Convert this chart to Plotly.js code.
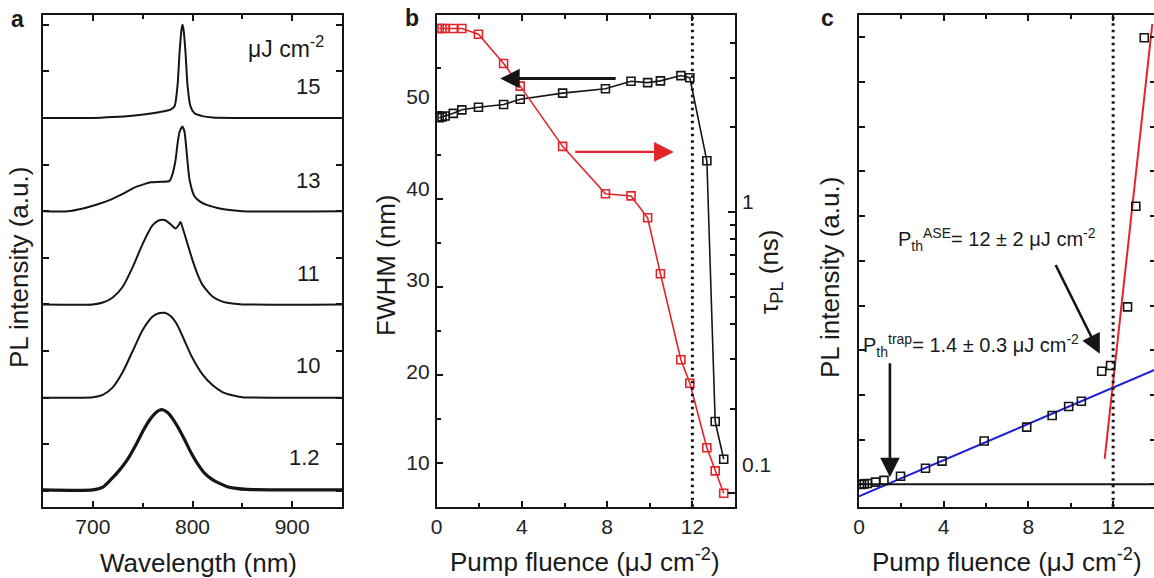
<!DOCTYPE html>
<html>
<head>
<meta charset="utf-8">
<script src="https://cdn.plot.ly/plotly-3.0.1.min.js"></script>
<style>
  html, body { margin: 0; padding: 0; overflow: hidden; background: #fff; }
  #chart { width: 1157px; height: 578px; }
</style>
</head>
<body>
<div id="chart"></div>
<script>
// ---------- Panel a: PL spectra (offset stacked) ----------
const wl15  = [650, 700, 720, 740, 760, 770, 778, 782, 785, 787, 789, 790, 791, 793, 795, 798, 802, 810, 820, 850, 950];
const int15 = [0, 0, 0.02, 0.05, 0.1, 0.14, 0.18, 0.25, 0.7, 1.4, 1.9, 2.0, 1.9, 1.4, 0.7, 0.25, 0.1, 0.04, 0.01, 0, 0];

const wl13  = [650, 675, 690, 705, 718, 730, 741, 750, 758, 768, 777, 780, 783, 785, 787, 790, 792, 794, 797, 802, 808, 815, 825, 835, 850, 950];
const int13 = [0, 0, 0.06, 0.15, 0.25, 0.37, 0.5, 0.57, 0.62, 0.63, 0.65, 0.8, 1.1, 1.45, 1.7, 1.82, 1.7, 1.3, 0.68, 0.32, 0.2, 0.13, 0.07, 0.03, 0, 0];

const wl11  = [650, 700, 710, 720, 730, 740, 750, 760, 766, 772, 778, 783, 786, 788, 790, 795, 800, 805, 810, 820, 830, 840, 850, 950];
const int11 = [0, 0, 0.04, 0.15, 0.38, 0.8, 1.3, 1.7, 1.8, 1.81, 1.72, 1.63, 1.7, 1.77, 1.65, 1.3, 0.95, 0.65, 0.42, 0.17, 0.06, 0.02, 0, 0];

const wl10  = [650, 700, 710, 720, 730, 740, 750, 760, 766, 772, 778, 785, 792, 800, 810, 820, 830, 840, 850, 950];
const int10 = [0, 0.01, 0.06, 0.22, 0.55, 1.0, 1.45, 1.74, 1.81, 1.82, 1.75, 1.55, 1.22, 0.85, 0.5, 0.27, 0.12, 0.05, 0.01, 0];

const wl1p2  = [650, 700, 710, 718, 727, 735, 743, 751, 757, 762, 766, 770, 775, 780, 785, 792, 799, 806, 812, 820, 826, 835, 842, 855, 950];
const int1p2 = [0.02, 0.02, 0.08, 0.24, 0.45, 0.68, 0.98, 1.31, 1.52, 1.65, 1.72, 1.74, 1.68, 1.55, 1.38, 1.1, 0.8, 0.55, 0.38, 0.24, 0.17, 0.09, 0.06, 0.03, 0.02];

const spectraLabels = ['15', '13', '11', '10', '1.2'];

// ---------- Panels b and c: fluence dependence ----------
const fluence = [0.12, 0.25, 0.4, 0.78, 1.18, 1.96, 3.14, 3.92, 5.91, 7.92, 9.12, 9.9, 10.5, 11.46, 11.88, 12.68, 13.07, 13.47];
const fwhm    = [49.3, 49.4, 49.5, 49.8, 50.2, 50.5, 50.8, 51.4, 52.1, 52.6, 53.45, 53.3, 53.5, 54.1, 53.85, 44.4, 14.7, 10.4];
const tauPL   = [4.49, 4.49, 4.49, 4.49, 4.49, 4.28, 3.37, 2.80, 1.71, 1.16, 1.14, 0.953, 0.603, 0.298, 0.246, 0.145, 0.12, 0.1];
const plInt   = [0.0, 0.01, 0.02, 0.05, 0.09, 0.18, 0.36, 0.52, 0.97, 1.28, 1.54, 1.74, 1.86, 2.53, 2.66, 3.97, 6.22, 9.99];

// tick labels of panel b
const fwhmTicks = [10, 20, 30, 40, 50];
const tauTicks = [0.1, 1];
const tauTickText = ['0.1', '1'];

// linear fits drawn in panel c
const fitTrapX = [0, 14];
const fitTrapY = [-0.27, 2.57];
const fitAseX  = [11.6, 13.85];
const fitAseY  = [0.57, 10.3];

const threshold = 12;

// ---------- geometry helpers ----------
const W = 1157, H = 578;
const dx = (a, b) => [a / W, b / W];
const dy = (top, bot) => [1 - bot / H, 1 - top / H];
const px = x => x / W;
const py = y => 1 - y / H;

const FONT = 'Liberation Sans, Arial, Helvetica, sans-serif';
const INK = '#151515';
const RED = '#e3242b';
const BLUE = '#1f1fd6';

const baseAxis = {
  showline: true, linecolor: INK, linewidth: 2,
  ticks: 'inside', ticklen: 6, tickwidth: 2, tickcolor: INK,
  showgrid: false, zeroline: false,
  tickfont: { family: FONT, size: 21, color: '#222' },
  fixedrange: true
};

const traces = [];
const spectra = [[wl15, int15], [wl13, int13], [wl11, int11], [wl10, int10], [wl1p2, int1p2]];
const offsets = [8, 6, 4, 2, 0];
spectra.forEach((s, i) => {
  traces.push({
    type: 'scatter', mode: 'lines', xaxis: 'x', yaxis: 'y',
    x: s[0], y: s[1].map(v => v + offsets[i]),
    line: { color: INK, width: i === 4 ? 3.2 : 2, shape: 'spline', smoothing: 0.6 },
    hoverinfo: 'skip'
  });
});

// panel b
traces.push({
  type: 'scatter', mode: 'lines+markers', xaxis: 'x2', yaxis: 'y2',
  x: fluence, y: fwhm,
  line: { color: INK, width: 1.6 },
  marker: { symbol: 'square-open', size: 8, color: INK, line: { width: 1.6, color: INK } }
});
traces.push({
  type: 'scatter', mode: 'lines+markers', xaxis: 'x2', yaxis: 'y3',
  x: fluence, y: tauPL,
  line: { color: RED, width: 1.6 },
  marker: { symbol: 'square-open', size: 8, color: RED, line: { width: 1.6, color: RED } }
});
// empty traces so that the label-only axes of panel b are created
traces.push({ type: 'scatter', mode: 'markers', xaxis: 'x2', yaxis: 'y5', x: [], y: [], hoverinfo: 'skip' });
traces.push({ type: 'scatter', mode: 'markers', xaxis: 'x2', yaxis: 'y6', x: [], y: [], hoverinfo: 'skip' });

// panel c
traces.push({
  type: 'scatter', mode: 'lines', xaxis: 'x3', yaxis: 'y4',
  x: fitTrapX, y: fitTrapY, line: { color: BLUE, width: 2 }
});
traces.push({
  type: 'scatter', mode: 'lines', xaxis: 'x3', yaxis: 'y4',
  x: fitAseX, y: fitAseY, line: { color: RED, width: 2 }
});
traces.push({
  type: 'scatter', mode: 'markers', xaxis: 'x3', yaxis: 'y4',
  x: fluence, y: plInt,
  marker: { symbol: 'square-open', size: 8, color: INK, line: { width: 1.6, color: INK } }
});

const layout = {
  width: W, height: H,
  margin: { l: 0, r: 0, t: 0, b: 0 },
  paper_bgcolor: '#fff', plot_bgcolor: 'rgba(0,0,0,0)',
  showlegend: false,
  font: { family: FONT, color: INK },

  xaxis: Object.assign({}, baseAxis, {
    domain: dx(43, 342), anchor: 'y', range: [650, 950],
    tickvals: [700, 800, 900], mirror: 'ticks',
    minor: { tickvals: [650, 750, 850, 950], ticks: 'inside', ticklen: 4, tickwidth: 2, tickcolor: INK }
  }),
  yaxis: Object.assign({}, baseAxis, {
    domain: dy(15, 506.7), anchor: 'x', range: [-0.34, 10.21],
    tickvals: [0, 1, 2, 3, 4, 5, 6, 7, 8, 9, 10], showticklabels: false, mirror: 'ticks'
  }),

  xaxis2: Object.assign({}, baseAxis, {
    domain: dx(436.7, 735), anchor: 'y2', range: [0, 14],
    tickvals: [0, 4, 8, 12], mirror: 'ticks',
    minor: { tickvals: [2, 6, 10], ticks: 'inside', ticklen: 4, tickwidth: 2, tickcolor: INK }
  }),
  yaxis2: Object.assign({}, baseAxis, {
    domain: dy(15, 506.7), anchor: 'x2', range: [5, 61],
    tickvals: fwhmTicks, showticklabels: false, mirror: false,
    minor: { tickvals: [15, 25, 35, 45, 55], ticks: 'inside', ticklen: 4, tickwidth: 2, tickcolor: INK }
  }),
  yaxis3: Object.assign({}, baseAxis, {
    domain: dy(15, 506.7), anchor: 'x2', overlaying: 'y2', side: 'right',
    type: 'log', range: [-1.048, 0.70],
    tickvals: tauTicks, showticklabels: false, ticklen: 7,
    minor: { tickvals: [0.2, 0.3, 0.4, 0.5, 0.6, 0.7, 0.8, 0.9, 2, 3, 4, 5], ticks: 'inside', ticklen: 5, tickwidth: 2, tickcolor: INK }
  }),
  // label-only axes: the printed tick labels of panel b sit slightly off their tick marks
  yaxis5: {
    domain: dy(15, 506.7), anchor: 'x2', overlaying: 'y2', side: 'left',
    range: [5.22, 58.96], tickvals: fwhmTicks, ticks: '', showline: false,
    showgrid: false, zeroline: false, fixedrange: true, ticklabelstandoff: 6,
    tickfont: { family: FONT, size: 21, color: '#222' }
  },
  yaxis6: {
    domain: dy(15, 506.7), anchor: 'x2', overlaying: 'y2', side: 'right',
    type: 'log', range: [-1.158, 0.709], tickvals: tauTicks, ticktext: tauTickText,
    ticks: '', showline: false, showgrid: false, zeroline: false, fixedrange: true, ticklabelstandoff: 6,
    tickfont: { family: FONT, size: 21, color: '#222' }
  },

  xaxis3: Object.assign({}, baseAxis, {
    domain: dx(859, 1155.5), anchor: 'y4', range: [0, 14],
    tickvals: [0, 4, 8, 12], mirror: 'ticks',
    minor: { tickvals: [2, 6, 10], ticks: 'inside', ticklen: 4, tickwidth: 2, tickcolor: INK }
  }),
  yaxis4: Object.assign({}, baseAxis, {
    domain: dy(15, 506.7), anchor: 'x3', range: [-0.5, 10.5],
    tickvals: [0, 1, 2, 3, 4, 5, 6, 7, 8, 9, 10], showticklabels: false, mirror: 'ticks'
  }),

  shapes: [
    { type: 'line', xref: 'x2', yref: 'y2 domain', x0: threshold, x1: threshold, y0: 0, y1: 1,
      line: { color: INK, width: 3, dash: '2.5px,4px' } },
    { type: 'line', xref: 'x3', yref: 'y4 domain', x0: threshold, x1: threshold, y0: 0, y1: 1,
      line: { color: INK, width: 3, dash: '2.5px,4px' } },
    { type: 'line', xref: 'x3 domain', yref: 'y4', x0: 0, x1: 1, y0: 0, y1: 0,
      line: { color: INK, width: 2 } }
  ],

  annotations: []
};

const A = layout.annotations;
const txt = (text, x, y, size, opts) => A.push(Object.assign({
  text, xref: 'paper', yref: 'paper', x: px(x), y: py(y),
  showarrow: false, font: { family: FONT, size, color: '#1a1a1a' },
  xanchor: 'center', yanchor: 'middle'
}, opts || {}));

// panel letters
txt('<b>a</b>', 17, 19, 23);
txt('<b>b</b>', 412, 18, 23);
txt('<b>c</b>', 827, 18, 23);

// axis titles
txt('Wavelength (nm)', 198, 563, 26);
txt('Pump fluence (μJ cm<sup>-2</sup>)', 585, 560, 26);
txt('Pump fluence (μJ cm<sup>-2</sup>)', 1007, 560, 26);
txt('PL intensity (a.u.)', 19, 268, 26, { textangle: -90 });
txt('FWHM (nm)', 386, 265, 26, { textangle: -90 });
txt('τ<sub>PL</sub> (ns)', 770, 272, 26, { textangle: -90 });
txt('PL intensity (a.u.)', 830, 278, 26, { textangle: -90 });

// panel a labels
txt('μJ cm<sup>-2</sup>', 326, 47, 23, { xanchor: 'right' });
const labelY = [87, 180, 273, 365, 457];
spectraLabels.forEach((t, i) => txt(t, 322, labelY[i], 22, { xanchor: 'right' }));

// panel c threshold texts
txt('P<sub>th</sub><sup>ASE</sup>= 12 ± 2 μJ cm<sup>-2</sup>', 896, 239, 20, { xanchor: 'left' });
txt('P<sub>th</sub><sup>trap</sup>= 1.4 ± 0.3 μJ cm<sup>-2</sup>', 861, 345, 20, { xanchor: 'left' });

// arrows
A.push({ xref: 'x2', yref: 'y2', axref: 'x2', ayref: 'y2', x: 2.98, y: 53.76, ax: 8.47, ay: 53.76,
  text: '', showarrow: true, arrowhead: 2, arrowsize: 1.3, arrowwidth: 3, arrowcolor: INK });
A.push({ xref: 'x2', yref: 'y2', axref: 'x2', ayref: 'y2', x: 11.13, y: 45.4, ax: 6.43, ay: 45.4,
  text: '', showarrow: true, arrowhead: 2, arrowsize: 1.8, arrowwidth: 2.2, arrowcolor: RED });
A.push({ xref: 'x3', yref: 'y4', axref: 'x3', ayref: 'y4', x: 11.37, y: 2.92, ax: 9.25, ay: 4.94,
  text: '', showarrow: true, arrowhead: 2, arrowsize: 1.5, arrowwidth: 2.6, arrowcolor: INK });
A.push({ xref: 'x3', yref: 'y4', axref: 'x3', ayref: 'y4', x: 1.46, y: 0.16, ax: 1.46, ay: 2.74,
  text: '', showarrow: true, arrowhead: 2, arrowsize: 1.5, arrowwidth: 2.6, arrowcolor: INK });

Plotly.newPlot('chart', traces, layout, { staticPlot: true, displayModeBar: false });
</script>
</body>
</html>
